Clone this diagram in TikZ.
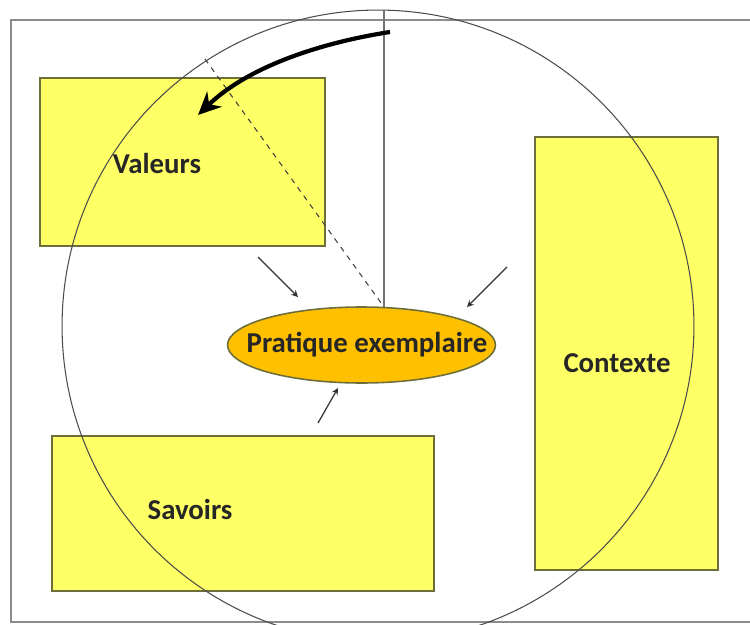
\documentclass[tikz,border=0pt]{standalone}
\usepackage{fontspec}
\setmainfont{Carlito}
\usetikzlibrary{shapes.geometric,arrows.meta}
\definecolor{boxyellow}{HTML}{FFFF66}
\definecolor{boxedge}{HTML}{6E6E3A}
\definecolor{pratorange}{HTML}{FFC000}
\definecolor{inktext}{HTML}{262626}
\tikzset{
  zone/.style={draw=boxedge,fill=boxyellow,line width=0.9pt,inner sep=0pt},
  zonetext/.style={font=\fontsize{16.4}{19}\selectfont\bfseries,text=inktext},
  pointer/.style={->,line width=0.7pt,black!80}
}
\begin{document}
\begin{tikzpicture}[>=stealth,x=0.02cm,y=-0.02cm]
            \useasboundingbox (0,0) rectangle (750,625);
            \clip (0,0) rectangle (750,625);
            \draw[black!45,line width=1.2pt] (11,20) rectangle (770,622);
            % les trois zones
            \node[zone,minimum width=5.7cm,minimum height=3.36cm] (valeurs) at (182.5,162) {};
            \node[zone,minimum width=3.66cm,minimum height=8.66cm] (contexte) at (626.5,353.5) {};
            \node[zone,minimum width=7.64cm,minimum height=3.1cm] (savoirs) at (243,513.5) {};
            \node[zonetext] (tvaleurs) at (157,163) {Valeurs};
            \node[zonetext] (tcontexte) at (617,363) {Contexte};
            \node[zonetext] (tsavoirs) at (190,509) {Savoirs};
            \draw[black!70,line width=0.6pt] (378,326) circle[radius=6.32cm];
            \coordinate (haut) at (384,10);
            \coordinate (bord) at (205,59);
            \coordinate (pied) at (384,307);
            \draw[black!55,line width=0.6pt] (haut) -- (pied);
            \draw[black!75,dashed,line width=0.6pt] (bord) -- (pied);
            % pratique exemplaire
            \node[ellipse,draw=boxedge,fill=pratorange,line width=0.9pt,inner sep=0pt,
                  minimum width=5.36cm,minimum height=1.52cm] (pratique) at (361.5,345) {};
            \node[zonetext] (tpratique) at (367,345) {Pratique exemplaire};
            \coordinate (s1) at (258,257);
            \coordinate (e1) at (298,297);
            \coordinate (s2) at (507,267);
            \coordinate (e2) at (467,307);
            \coordinate (s3) at (318,423);
            \coordinate (e3) at (338,388);
            \draw[pointer] (s1) -- (e1);
            \draw[pointer] (s2) -- (e2);
            \draw[pointer] (s3) -- (e3);
            \coordinate (depart) at (390,32);
            \coordinate (arrivee) at (198,115);
            \draw[-{Stealth[length=13pt,width=12pt]},line width=2.4pt] (depart) .. controls (325,42) and (250,65) .. (arrivee);
        \end{tikzpicture}
\end{document}
